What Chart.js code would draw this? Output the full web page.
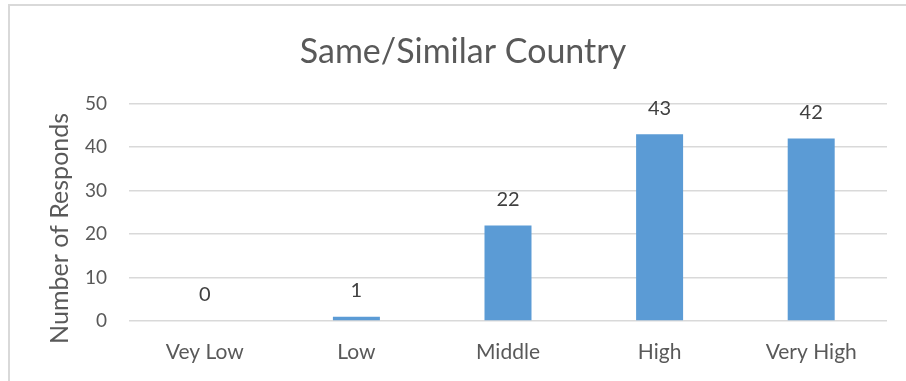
<!DOCTYPE html>
<html>
<head>
<meta charset="utf-8">
<script src="https://cdn.jsdelivr.net/npm/chart.js@4"></script>
<style>
  html, body { margin: 0; padding: 0; background: #fff; }
  #wrap { position: relative; width: 906px; height: 381px; }
  #frame {
    position: absolute; left: 8px; top: 4px; right: -4px; bottom: -4px;
    border-left: 2px solid #d9d9d9; border-top: 2px solid #d9d9d9;
    pointer-events: none;
  }
</style>
</head>
<body>
<div id="wrap">
  <canvas id="chart" width="906" height="381"></canvas>
  <div id="frame"></div>
</div>
<script>
var categories = ['Vey Low', 'Low', 'Middle', 'High', 'Very High'];
var responds = [0, 1, 22, 43, 42];
var yTicks = [0, 10, 20, 30, 40, 50];

var FONT = 'Lato, "Open Sans", sans-serif';

// value on top of each bar
var barValues = {
  id: 'barValues',
  afterDatasetsDraw: function (chart) {
    var ctx = chart.ctx;
    var meta = chart.getDatasetMeta(0);
    ctx.save();
    ctx.font = '20px ' + FONT;
    ctx.fillStyle = '#404040';
    ctx.textAlign = 'center';
    ctx.textBaseline = 'middle';
    meta.data.forEach(function (bar, i) {
      ctx.fillText(String(chart.data.datasets[0].data[i]), bar.x, bar.y - 26);
    });
    ctx.restore();
  }
};

new Chart(document.getElementById('chart').getContext('2d'), {
  type: 'bar',
  data: {
    labels: categories,
    datasets: [{
      data: responds,
      backgroundColor: '#5b9bd5',
      barPercentage: 0.62,
      categoryPercentage: 0.5
    }]
  },
  plugins: [barValues],
  options: {
    responsive: false,
    animation: false,
    layout: { padding: { left: 39, right: 19, top: 0, bottom: 0 } },
    plugins: {
      legend: { display: false },
      tooltip: { enabled: false },
      title: {
        display: true,
        text: 'Same/Similar Country',
        color: '#595959',
        font: { family: FONT, size: 34, weight: 'normal' },
        padding: { top: 32, bottom: 31 }
      }
    },
    scales: {
      x: {
        grid: { display: false, drawTicks: false },
        border: { display: false },
        ticks: { color: '#595959', font: { family: FONT, size: 21 }, padding: 19 },
        afterFit: function (scale) { scale.height = 60; }
      },
      y: {
        min: 0,
        max: 50,
        afterBuildTicks: function (scale) {
          scale.ticks = yTicks.map(function (v) { return { value: v }; });
        },
        grid: { color: '#d9d9d9', lineWidth: 1.5, drawTicks: false },
        border: { display: false },
        ticks: { color: '#595959', font: { family: FONT, size: 19 }, padding: 22 },
        title: {
          display: true,
          text: 'Number of Responds     ',
          color: '#595959',
          font: { family: FONT, size: 25, weight: 'normal' },
          padding: { top: 6 }
        },
        afterFit: function (scale) { scale.width = 90; }
      }
    }
  }
});
</script>
</body>
</html>
